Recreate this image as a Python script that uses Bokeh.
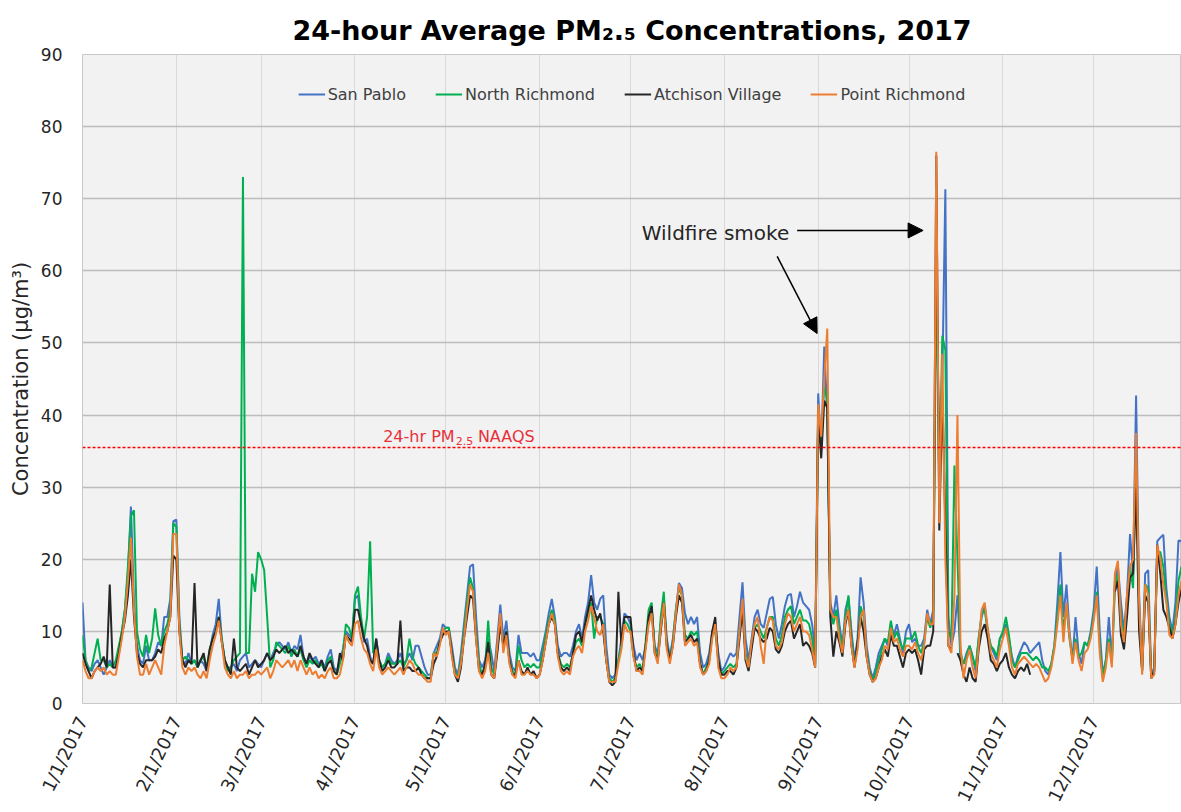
import math
import numpy as np
import pandas as pd
from bokeh.plotting import figure
from bokeh.models import Range1d, FixedTicker, SingleIntervalTicker, Span, Label, Arrow, NormalHead
from bokeh.embed import file_html
from bokeh.resources import INLINE

nan = float("nan")

# ---------------- data (daily 24-hour averages, µg/m³), 1/1/2017 .. 12/31/2017 ----------------
START_DATE = "2017-01-01"
END_DATE = "2017-12-31"
TITLE = "24-hour Average PM₂.₅ Concentrations, 2017"
SERIES_NAMES = ["San Pablo", "North Richmond", "Atchison Village", "Point Richmond"]
TICK_LABELS = ["1/1/2017", "2/1/2017", "3/1/2017", "4/1/2017", "5/1/2017", "6/1/2017",
               "7/1/2017", "8/1/2017", "9/1/2017", "10/1/2017", "11/1/2017", "12/1/2017"]
NAAQS_LEVEL = 35.5

san_pablo = [
    14, 6, 5, 4.5, 5.5, 6, 5, 4, 5, 6, 5, 5, 7.5, 10, 13, 18, 27.3, 14, 8, 6, 5.5, 8, 6, 6, 7, 8.5, 8, 12, 12, 14.5, 25.3,
    25.5, 12, 6, 5.5, 7, 5.5, 6, 5, 6, 5.5, 4.5, 7, 9.5, 11, 14.5, 9, 6, 5, 5, 5.5, 4.5, 6, 6.5, 7, 5, 5.5, 6, 5.5,
    5, 6, 7, 6, 7, 8, 8.5, 8, 7.5, 8.5, 7, 8, 7.5, 9.5, 6.5, 5.5, 6.5, 6, 6.5, 5.5, 6, 5, 6.5, 7.5, 5, 4.5, 6, 7.5, 10, 9.5, 9,
    14.5, 15, 11, 8.5, 9, 6.5, 5.5, 9, 6, 5, 5.5, 7, 6, 5.5, 6, 7, 5.5, 6, 7, 6, 8, 8, 6.5, 5, 4, 4, 7, 8, 9, 11,
    10.5, 10.5, 8, 5, 4, 7, 11, 15, 19, 19.3, 12, 6, 5, 6, 9, 7, 4.5, 9, 13.7, 9, 11.5, 7, 5, 4.5, 9.5, 7, 7, 7, 6.5, 7, 6,
    6, 8, 10, 12.5, 14.5, 12, 8, 6.5, 7, 7, 6.5, 8, 10, 11, 9, 12, 14, 17.8, 14, 13, 14.5, 15, 8, 4, 3.5, 4, 6, 9, 12.5, 12,
    11, 8, 6, 7, 6, 8, 11.5, 13, 8, 7, 11, 14.5, 9, 6.5, 9, 13, 16.7, 16, 12.5, 11, 12, 11, 12, 7, 5, 5.5, 7, 10, 11, 7, 4.5,
    5, 6, 7, 6.5, 7, 12, 16.8, 9, 6, 9, 12, 13, 11, 10.5, 12.5, 14.5, 14.8, 11, 9, 11, 13.5, 15, 15.2, 12, 13.5, 15.5, 14, 13.5, 13, 11, 7,
    43, 35, 49.5, 40, 14, 12, 15, 11, 8, 13, 14.7, 10, 6, 9, 17.5, 14, 8, 5, 3.5, 5, 7, 8, 9, 8, 11, 9.5, 11, 9, 7, 10,
    11, 8.5, 9, 8, 8, 9, 13, 11, 13, 60, 35, 45, 71.3, 12, 8, 10, 15, 6, 5.5, 7, 8, 6.5, 4.5, 9, 12, 13.5, 10, 8, 7, 6, 9,
    9.5, 11, 9, 6.5, 5, 6.5, 7.5, 8.5, 8, 7, 7.5, 8, 8.5, 6, 4.5, 4, 5.5, 8, 14, 21, 12, 16.5, 10, 6, 12, 7, 5.5, 8.5, 8, 10,
    13, 19, 10, 4, 6, 12, 6, 17, 19, 14, 10, 15, 23.5, 18, 42.7, 15, 5, 18, 18.5, 4, 5, 22.5, 23, 23.4, 16, 12, 10, 14, 22.6, 22.5, 22,
]

north_richmond = [
    9.5, 6, 4.5, 5, 7, 9, 6, 6, 5, 5.5, 5, 6, 8, 10, 13, 19, 26, 26.8, 10, 7.5, 6.5, 9.5, 7, 9, 13.2, 9.5, 8, 10, 11, 13, 25,
    24.5, 11, 6, 6.5, 6, 5.5, 6, 5, 6, 6.5, 5, 7.5, 9, 10, 12, 9, 6, 4.5, 5, 6, 6.5, 7, 73, 7, 7, 18, 15.5, 21,
    20, 18.5, 12, 5, 6, 8.5, 8, 7.5, 7, 8, 6.5, 7.5, 6.5, 7.5, 6, 5, 6, 5.5, 6, 5, 5.5, 4.5, 6, 6.5, 4.5, 4, 5.5, 7, 11, 10.5, 9,
    15, 16.2, 12, 9, 12, 22.5, 7, 7.5, 6, 5, 5.5, 6.5, 5.5, 5.5, 5.5, 6, 5, 6, 9, 6.5, 5.5, 5, 4.5, 4, 3.5, 3.5, 7, 7, 8.5, 10,
    10.5, 10.5, 7, 4.5, 3.5, 6, 10, 14, 17.5, 16, 10, 5.5, 4, 5, 11.5, 5, 4, 7.5, 11.5, 8, 10, 6, 4.5, 4, 8, 6, 5, 5.5, 5, 5.5, 5,
    5, 7, 9.5, 11.5, 13, 11.5, 7, 5.5, 5, 5.5, 5, 7, 8.5, 9, 8, 11, 12.5, 14, 9, 12, 12, 11, 6, 3.5, 3, 3.5, 6, 8, 11.5, 11,
    10, 6.5, 5, 5.5, 4.5, 8.5, 13, 14, 7.5, 6, 12, 15.5, 8, 6, 8.5, 13, 16, 15, 9.5, 9, 10, 9.5, 10, 5.5, 4, 5, 6, 9.5, 10, 6, 4,
    4.5, 5, 5.5, 5, 5.5, 10, 14, 7, 5, 8.5, 10.5, 11, 10, 9, 10.5, 12, 12, 9, 8, 9.5, 12, 13, 13.5, 11, 12, 13, 11.5, 11.5, 11, 9, 5.5,
    41, 36, 44, 42, 13, 11, 13, 10, 7.5, 12, 15, 9, 5.5, 8, 13.5, 12, 7, 4.5, 3, 4.5, 6, 7.5, 9, 8.5, 11.5, 9, 10, 8.5, 7.5, 9,
    9, 9, 10, 8, 7, 8.5, 12, 10.5, 12, 62, 30, 51, 49, 10, 9, 33, 20, 7, 5.5, 6.5, 8, 6.5, 5, 9, 12.5, 13, 10, 8, 7.5, 6.5, 9,
    10, 12, 9.5, 6, 5, 6, 7, 7, 7, 6.5, 6, 6.5, 6, 5, 5, 4.5, 5.5, 8, 12, 16.5, 10, 13.5, 9, 6, 9, 6.5, 7, 8.5, 8, 9.5,
    12, 15.5, 8, 3.5, 6, 9, 5.5, 16, 18, 12, 9, 14, 19, 16, 35, 13, 4.5, 16.5, 16, 3.5, 4.5, 21, 21, 19, 14.5, 11, 9.5, 12, 17, 19, 18,
]

atchison_village = [
    7, 5.5, 4.5, 3.5, 4.5, 5, 5.5, 6.5, 5, 16.5, 5, 5, 7, 9.5, 11.5, 15, 20, 12, 7, 5.5, 5, 6, 6, 6, 6.5, 7.5, 7, 9, 10, 12, 20.5,
    20, 10, 6, 5, 6, 5.5, 16.7, 5, 6, 7, 4.5, 7.5, 9, 10, 12, 8.5, 6, 5, 4, 9, 5, 4.5, 5, 5.5, 4, 5, 6, 5,
    5.5, 6, 7, 6, 6.5, 7.5, 7, 7.5, 8, 7, 7.5, 7, 6.5, 8, 6.5, 5.5, 7, 6, 5.5, 5, 6, 4.5, 5.5, 6, 4.5, 4, 7, 6, 9.5, 9, 8.5,
    13, 13, 11, 9, 8, 6, 5.5, 9, 6, 4.5, 5, 6, 5, 5, 5.5, 11.5, 4.5, 5, 5, 4.5, 4.5, 5, 4, 3.5, 3.5, 3.5, 5.5, 6.5, 8.5, 9.5,
    10, 10, 7, 4, 3, 5, 9, 12, 15, 14.5, 9, 4.5, 4, 5.5, 8.5, 4, 3.5, 7, 11, 8, 10, 6, 4, 4, 6, 4.5, 4, 5, 4, 4.5, 3.5,
    4, 6, 8.5, 11, 12, 11, 7, 5, 4.5, 5, 4.5, 7, 9.5, 10, 8.5, 11, 13, 15, 13, 11.5, 12.5, 10, 6, 3, 2.5, 3, 15.5, 8, 12, 12,
    12, 7, 4.5, 5, 4.5, 8, 12, 13.5, 7, 6, 10, 14, 8, 6, 8, 12, 15, 14, 8.5, 9, 9.5, 8.5, 9, 5.5, 4, 4.5, 6, 10, 12, 6, 4,
    4, 4.5, 4.5, 4, 5, 9, 13, 6, 4.5, 7.5, 10.5, 10, 9, 8.5, 9, 10.5, 10, 7.5, 7, 8, 10, 11, 11.5, 9, 10, 11, 8, 8.5, 8, 7, 5,
    40, 34, 42, 41, 12, 6.5, 10, 8.5, 6.5, 11, 13, 8, 5, 8.5, 12, 10, 6.5, 4, 3, 3.5, 5, 6.5, 7.5, 6.5, 9.5, 8, 8, 6.5, 5, 7,
    7.5, 7, 7.5, 6, 4, 7.5, 8, 8, 10, 76, 24, 43, 25, 8, 7.5, nan, 7, 6, 4, 3, 5, 3.5, 3, 7.5, 10, 11, 9, 6, 5.5, 4.5, 5.5,
    6, 7, 5, 4, 3.5, 4.5, 5, 4.5, 5.5, 4, nan, nan, nan, nan, nan, nan, nan, nan, nan, nan, nan, nan, nan, nan, nan, nan, nan, nan, nan, nan,
    nan, nan, nan, nan, nan, nan, nan, 15.5, 17, 9.5, 7.5, 12, 17.5, 18, 30, 10, 4.5, 15, 14, 3.5, 4.5, 22, 18, 13, 12, 10.5, 9, 11, 14, 16, 15,
]

point_richmond = [
    6, 4.5, 3.5, 3.5, 4.5, 5, 4.5, 5, 4, 4.5, 4, 4, 6.5, 9, 12, 17, 23, 13, 6.5, 4, 4, 5.5, 4, 5, 6, 5, 4, 8, 10, 12, 23.5,
    23.5, 10, 5, 4, 5, 4.5, 5, 4, 3.5, 4.5, 3.5, 6, 8, 9.5, 11.5, 8.5, 5, 4, 3.5, 4.5, 3.5, 4, 4, 4.5, 3.5, 4, 4, 4.5,
    4, 4.5, 5, 3.5, 4.5, 6, 5.5, 5, 5.5, 6, 5, 6, 4.5, 6, 5, 4, 5, 4, 4.5, 3.5, 4, 3.5, 4.5, 5, 3.5, 3.5, 4, 6, 9.5, 8.5, 8,
    11, 11.5, 9, 7.5, 7, 5.5, 4.5, 7.5, 5, 4, 4.5, 5, 4.5, 4, 4.5, 5, 4, 5, 6, 5.5, 4.5, 4, 4, 3.5, 3, 3, 7, 6.5, 8, 10.5,
    9.5, 10, 6.5, 4, 3.5, 5.5, 9, 13, 16.5, 15.5, 9, 4.5, 3.5, 4.5, 7, 4, 3.5, 8, 12.5, 7, 9.5, 5.5, 4, 3.5, 6, 4, 4, 4.5, 4, 4, 3.5,
    4, 6, 8.5, 11, 12.5, 11, 6.5, 4.5, 4, 4.5, 4, 6.5, 7.5, 8, 7, 10, 11.5, 13.5, 12, 10, 9.5, 11, 6, 3, 3, 3, 5.5, 7.5, 11, 10,
    10, 6.5, 4.5, 4.5, 4, 7.5, 11, 12.5, 7, 5.5, 10.5, 14, 7.5, 5.5, 8, 12.5, 16.5, 15, 8, 8.5, 9, 8, 8.5, 5, 4, 4.5, 5.5, 9, 11, 5, 3.5,
    3.5, 4, 5, 4.5, 5, 10, 14.5, 6.5, 5, 8.5, 11, 12, 8, 5.5, 10.5, 12, 11.5, 8, 7.5, 8.5, 11, 12.5, 12, 10, 11, 12, 10, 10, 9.5, 7.5, 5,
    41.5, 37, 45, 52, 13, 12, 12, 9, 7, 11.5, 13, 8, 5, 7.5, 12, 13, 6.5, 4, 3, 3.5, 5, 6, 8, 7.5, 10.5, 8.5, 9, 7.5, 6.5, 8,
    8, 7.5, 8.5, 7, 6, 8, 12.5, 11, 11, 76.5, 25, 48.5, 20, 8, 7, 15, 40, 8, 3.5, 6, 7.5, 5, 3.5, 8, 13, 14, 10.5, 7, 6, 5, 7.5,
    9, 10.5, 8, 5, 4, 5.5, 6, 6.5, 6, 5.5, 5, 5.5, 5, 4, 3, 3.5, 5, 7.5, 11, 15, 8.5, 14, 9.5, 5.5, 8.5, 6, 4.5, 7, 7.5, 9,
    11.5, 15, 7, 3, 5, 8.5, 5, 18, 19.8, 11, 8.5, 15, 19, 20, 37.5, 14, 4, 16.5, 15, 3.5, 4, 22, 20, 16.5, 14, 9.5, 9, 11, 15, 17, 16,
]

SERIES_COLORS = ["#4472C4", "#00B050", "#262626", "#ED7D31"]

# ---------------- derived x positions (days since 1/1/2017) ----------------
dates = pd.date_range(START_DATE, END_DATE, freq="D")
day = (dates - dates[0]).days.to_numpy()
month_starts = [int((pd.Timestamp(2017, m, 1) - dates[0]).days) for m in range(1, 13)]

FONT = "DejaVu Sans"
TXT = "#262626"

p = figure(width=1181, height=812, title=TITLE,
           x_range=Range1d(0, 363), y_range=Range1d(0, 90),
           output_backend="svg", toolbar_location=None,
           min_border_left=82, min_border_right=0, min_border_top=54, min_border_bottom=109,
           background_fill_color="#f2f2f2", border_fill_color="white",
           outline_line_color="#c8c8c8", outline_line_width=1)

p.title.align = "center"
p.title.offset = -17
p.title.text_font = FONT
p.title.text_font_size = "27px"
p.title.text_font_style = "bold"
p.title.text_color = "black"
p.title.standoff = 18

# axes
p.xaxis.ticker = FixedTicker(ticks=month_starts)
p.xaxis.major_label_overrides = {t: lbl for t, lbl in zip(month_starts, TICK_LABELS)}
p.xaxis.major_label_orientation = math.radians(64)
p.yaxis.ticker = SingleIntervalTicker(interval=10)
for ax in (p.xaxis[0], p.yaxis[0]):
    ax.axis_line_color = None
    ax.major_tick_line_color = None
    ax.minor_tick_line_color = None
    ax.major_label_text_font = FONT
    ax.major_label_text_color = TXT
p.xaxis.major_label_text_font_size = "18px"
p.yaxis.major_label_text_font_size = "17px"
p.xaxis.major_label_standoff = 8
p.yaxis.major_label_standoff = 14
p.yaxis.axis_label = "Concentration (µg/m³)"
p.yaxis.axis_label_text_font = FONT
p.yaxis.axis_label_text_font_size = "21px"
p.yaxis.axis_label_text_font_style = "normal"
p.yaxis.axis_label_text_color = TXT
p.yaxis.axis_label_standoff = 5

p.xgrid.grid_line_color = "#d9d9d9"
p.xgrid.grid_line_width = 1
p.ygrid.grid_line_color = "#bcbcbc"
p.ygrid.grid_line_width = 1.5

# data lines
for name, vals, col in zip(SERIES_NAMES, [san_pablo, north_richmond, atchison_village, point_richmond], SERIES_COLORS):
    p.line(day, np.array(vals, dtype=float), line_color=col, line_width=2, legend_label=name)

lg = p.legend[0]
lg.location = "top_center"
lg.orientation = "horizontal"
lg.background_fill_alpha = 0
lg.border_line_alpha = 0
lg.label_text_font = FONT
lg.label_text_font_size = "16px"
lg.label_text_color = "#404040"
lg.glyph_width = 27
lg.label_standoff = 3
lg.spacing = 29
lg.margin = 24
lg.padding = 6

# NAAQS line and label
p.add_layout(Span(location=NAAQS_LEVEL, dimension="width", line_color="#ff0000",
                  line_dash="3 2", line_width=1.3))
RED = "#e8303a"
p.add_layout(Label(x=122.9, y=37.0, text="24-hr PM", text_align="right", text_baseline="alphabetic",
                   text_font=FONT, text_font_size="16px", text_color=RED))
p.add_layout(Label(x=123.3, y=36.4, text="2.5", text_align="left", text_baseline="alphabetic",
                   text_font=FONT, text_font_size="11px", text_color=RED))
p.add_layout(Label(x=130.6, y=37.0, text="NAAQS", text_align="left", text_baseline="alphabetic",
                   text_font=FONT, text_font_size="16px", text_color=RED))

# wildfire annotation
p.add_layout(Label(x=184.7, y=65.2, text="Wildfire smoke", text_align="left", text_baseline="middle",
                   text_font=FONT, text_font_size="20px", text_color=TXT))
p.add_layout(Arrow(end=NormalHead(size=15, fill_color="black", line_color="black"),
                   x_start=236.05, y_start=65.6, x_end=277.65, y_end=65.6,
                   line_color="black", line_width=1.5))
p.add_layout(Arrow(end=NormalHead(size=15, fill_color="black", line_color="black"),
                   x_start=229.45, y_start=62.0, x_end=242.65, y_end=51.3,
                   line_color="black", line_width=1.5))

open("out.html", "w").write(file_html(p, INLINE))
